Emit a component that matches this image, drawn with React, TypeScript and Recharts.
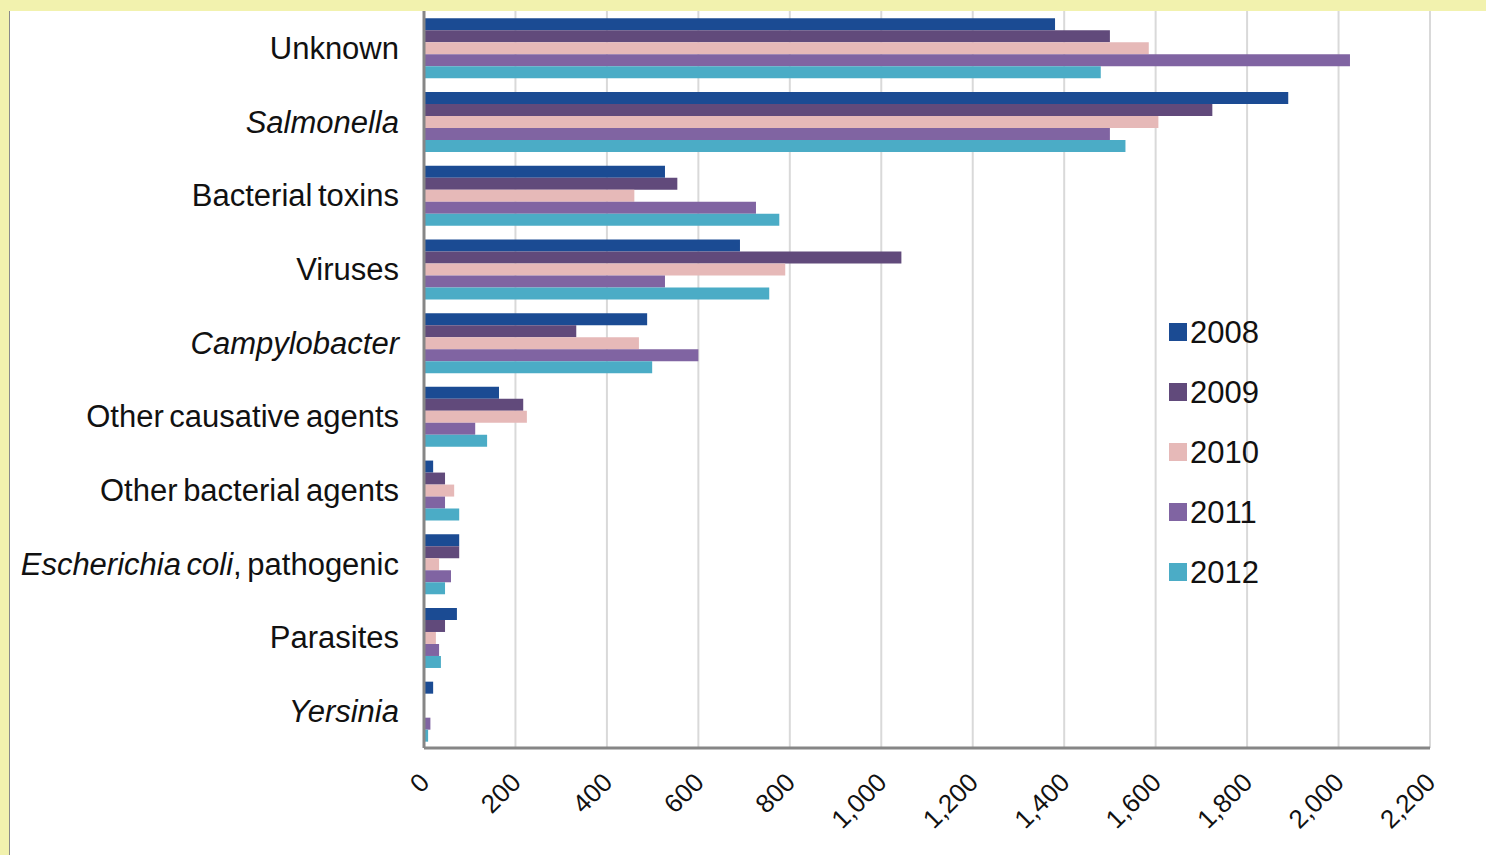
import React from "react";
import { BarChart, Bar, XAxis, YAxis, CartesianGrid, Legend } from "recharts";

const CATEGORIES = [
  "Unknown",
  "Salmonella",
  "Bacterial toxins",
  "Viruses",
  "Campylobacter",
  "Other causative agents",
  "Other bacterial agents",
  "Escherichia coli, pathogenic",
  "Parasites",
  "Yersinia"
];
// leading part of each label that is set in italics
const ITALIC_PART = ["", "Salmonella", "", "", "Campylobacter", "", "", "Escherichia coli", "", "Yersinia"];

const YEARS = ["2008", "2009", "2010", "2011", "2012"];
const V2008 = [1380, 1890, 527, 691, 488, 164, 20, 77, 72, 20];
const V2009 = [1500, 1724, 554, 1044, 333, 217, 46, 77, 46, 0];
const V2010 = [1585, 1606, 460, 790, 470, 225, 66, 33, 26, 0];
const V2011 = [2025, 1500, 726, 527, 600, 112, 46, 59, 33, 14];
const V2012 = [1480, 1534, 777, 755, 499, 138, 77, 46, 37, 9];
const X_TICKS = [0, 200, 400, 600, 800, 1000, 1200, 1400, 1600, 1800, 2000, 2200];

const COLORS = ["#1B4B93", "#614A7B", "#E6B9B8", "#8064A2", "#4BACC6"];
const FONT = "'Liberation Sans', Arial, sans-serif";

const data = CATEGORIES.map((name, i) => ({
  name,
  "2008": V2008[i],
  "2009": V2009[i],
  "2010": V2010[i],
  "2011": V2011[i],
  "2012": V2012[i]
}));

function CategoryTick({ x, y, payload }: any) {
  const label: string = payload.value;
  const idx = CATEGORIES.indexOf(label);
  const it = idx >= 0 ? ITALIC_PART[idx] : "";
  const rest = label.slice(it.length);
  return (
    <text
      x={x}
      y={y}
      textAnchor="end"
      dominantBaseline="central"
      fontFamily={FONT}
      fontSize={31}
      wordSpacing={-3}
      fill="#111"
    >
      {it && <tspan fontStyle="italic">{it}</tspan>}
      {rest && <tspan>{rest}</tspan>}
    </text>
  );
}

function ValueTick({ x, y, payload }: any) {
  const ax = x + 7;
  const ay = y + 36;
  return (
    <text
      x={ax}
      y={ay}
      textAnchor="end"
      transform={`rotate(-45, ${ax}, ${ay})`}
      fontFamily={FONT}
      fontSize={26}
      fill="#111"
    >
      {payload.value.toLocaleString("en-US")}
    </text>
  );
}

function YearLegend() {
  return (
    <div style={{ fontFamily: FONT }}>
      {YEARS.map((yr, i) => (
        <div key={yr} style={{ display: "flex", alignItems: "center", height: 60 }}>
          <div style={{ width: 18, height: 18, background: COLORS[i], marginRight: 3 }} />
          <span style={{ fontSize: 31, color: "#111", lineHeight: "31px" }}>{yr}</span>
        </div>
      ))}
    </div>
  );
}

export default function App() {
  return (
    <div
      style={{
        position: "fixed",
        left: 0,
        top: 0,
        width: 1486,
        height: 855,
        background: "#F2F2AE",
        overflow: "hidden"
      }}
    >
      <div
        style={{
          position: "absolute",
          left: 9,
          top: 11,
          width: 1477,
          height: 844,
          background: "#fff",
          borderLeft: "1px solid #8a8a8a",
          boxSizing: "border-box"
        }}
      />
      <div style={{ position: "absolute", left: 0, top: 0 }}>
        <BarChart
          width={1486}
          height={855}
          data={data}
          layout="vertical"
          margin={{ top: 11, right: 56, left: 0, bottom: 0 }}
          barCategoryGap="10%"
          barGap={0}
        >
          <CartesianGrid horizontal={false} stroke="#D9D9D9" strokeWidth={2} />
          <XAxis
            type="number"
            domain={[0, 2200]}
            ticks={X_TICKS}
            interval={0}
            height={107}
            tickLine={false}
            tickSize={0}
            tickMargin={0}
            axisLine={{ stroke: "#868686", strokeWidth: 3 }}
            tick={<ValueTick />}
          />
          <YAxis
            type="category"
            dataKey="name"
            width={424}
            tickLine={false}
            tickSize={0}
            tickMargin={25}
            interval={0}
            axisLine={{ stroke: "#868686", strokeWidth: 3 }}
            tick={<CategoryTick />}
          />
          <Legend
            layout="vertical"
            align="center"
            verticalAlign="middle"
            wrapperStyle={{ left: 1169, top: 302, width: 120 }}
            content={<YearLegend />}
          />
          {YEARS.map((yr, i) => (
            <Bar key={yr} dataKey={yr} fill={COLORS[i]} isAnimationActive={false} />
          ))}
        </BarChart>
      </div>
    </div>
  );
}
